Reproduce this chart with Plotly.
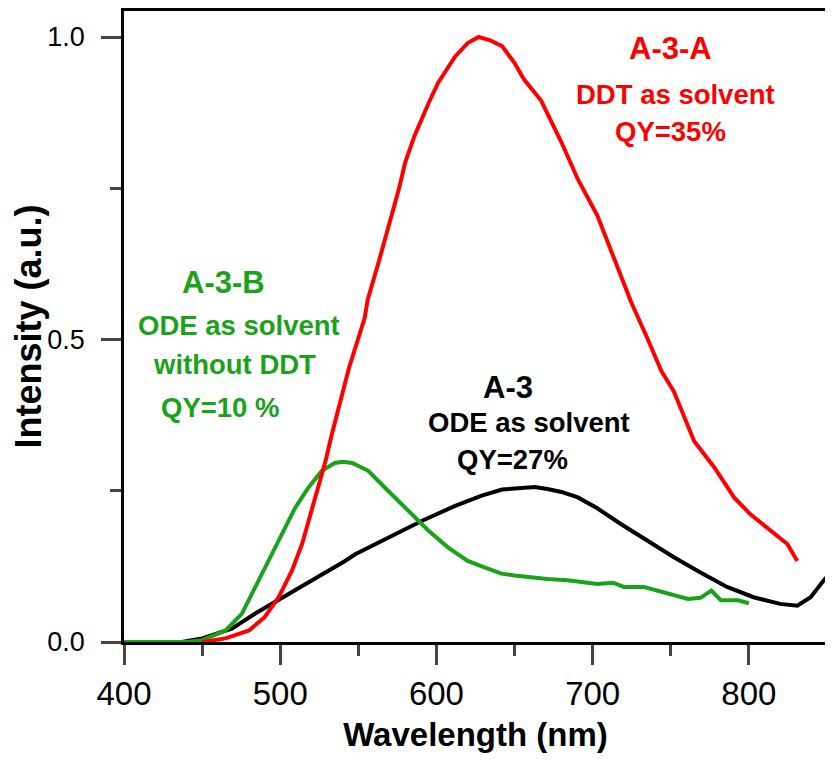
import plotly.graph_objects as go

# A-3-A, DDT as solvent (red)
wl_a3a = [450, 465, 480, 490, 499, 507.5, 514, 522, 529, 533, 544, 554, 556, 563, 569, 576,
          580, 586, 595, 601, 612, 620, 627, 634, 642, 650, 656, 667, 680, 690.5, 703, 714,
          724.6, 735, 744, 752, 756.5, 765, 778, 790.5, 801, 814, 824.6, 831]
int_a3a = [0.0, 0.006, 0.019, 0.041, 0.074, 0.118, 0.162, 0.233, 0.299, 0.343, 0.453, 0.535,
           0.566, 0.628, 0.683, 0.749, 0.793, 0.837, 0.891, 0.924, 0.968, 0.99, 1.0, 0.995,
           0.985, 0.957, 0.930, 0.895, 0.826, 0.765, 0.705, 0.634, 0.562, 0.502, 0.448, 0.414,
           0.387, 0.332, 0.288, 0.239, 0.211, 0.184, 0.162, 0.134]

# A-3-B, ODE without DDT (green)
wl_a3b = [400, 440, 450, 465, 475.5, 486, 494.7, 501, 509.6, 518, 526.6, 535, 540, 546, 556.4,
          569, 582, 595, 607.5, 620, 629, 641.6, 650, 671, 684, 703, 713, 720, 733, 740, 748,
          761, 769, 776, 782, 793, 800]
int_a3b = [0.0, 0.0, 0.003, 0.019, 0.047, 0.102, 0.145, 0.178, 0.222, 0.255, 0.283, 0.296,
           0.298, 0.296, 0.283, 0.250, 0.217, 0.184, 0.156, 0.134, 0.125, 0.113, 0.110, 0.104,
           0.102, 0.096, 0.098, 0.091, 0.091, 0.086, 0.080, 0.071, 0.073, 0.085, 0.069, 0.069,
           0.064]

# A-3, ODE as solvent (black)
wl_a3 = [400, 437, 450, 469, 484, 500, 522, 541.5, 548, 569, 590.5, 612, 629, 642, 652, 663,
         671, 680, 690.5, 703, 718, 735, 752, 769, 786, 803, 812, 820, 831, 839.5, 848, 850]
int_a3 = [0.0, 0.0, 0.006, 0.022, 0.047, 0.071, 0.104, 0.134, 0.145, 0.173, 0.200, 0.225,
          0.242, 0.252, 0.254, 0.256, 0.253, 0.248, 0.239, 0.221, 0.195, 0.167, 0.140, 0.115,
          0.091, 0.074, 0.068, 0.063, 0.060, 0.074, 0.102, 0.108]

RED = "#ff0000"
GREEN = "#1aa31a"
FONT = "Liberation Sans, Arial, sans-serif"

fig = go.Figure()
fig.add_trace(go.Scatter(x=wl_a3, y=int_a3, mode="lines", line=dict(color="black", width=4)))
fig.add_trace(go.Scatter(x=wl_a3b, y=int_a3b, mode="lines", line=dict(color=GREEN, width=4)))
fig.add_trace(go.Scatter(x=wl_a3a, y=int_a3a, mode="lines", line=dict(color=RED, width=4)))

labels = [
    ("<b>A-3-A</b>", 749.5, 0.981, 31, RED),
    ("<b>DDT as solvent</b>", 752.7, 0.905, 27.5, RED),
    ("<b>QY=35%</b>", 750.1, 0.844, 27.5, RED),
    ("<b>A-3-B</b>", 463.9, 0.594, 31, GREEN),
    ("<b>ODE as solvent</b>", 473.9, 0.523, 27.5, GREEN),
    ("<b>without DDT</b>", 470.8, 0.459, 27.5, GREEN),
    ("<b>QY=10 %</b>", 461.5, 0.388, 27.5, GREEN),
    ("<b>A-3</b>", 645.9, 0.421, 31, "black"),
    ("<b>ODE as solvent</b>", 659.1, 0.363, 27.5, "black"),
    ("<b>QY=27%</b>", 649.0, 0.302, 27.5, "black"),
]
for text, x, y, size, color in labels:
    fig.add_annotation(x=x, y=y, text=text, showarrow=False,
                       font=dict(family=FONT, size=size, color=color))

fig.update_xaxes(
    range=[400, 850], dtick=100, ticks="outside", ticklen=20, tickwidth=2.5,
    minor=dict(dtick=50, ticks="outside", ticklen=11, tickwidth=2.5),
    showline=True, linewidth=2.5, linecolor="black", mirror=True, showgrid=False,
    zeroline=False, ticklabelstandoff=1,
    tickfont=dict(family=FONT, size=33, color="black"),
    title=dict(text="<b>Wavelength (nm)</b>", standoff=12,
               font=dict(family=FONT, size=33, color="black")),
)
fig.update_yaxes(
    range=[0, 1.043], tickvals=[0, 0.5, 1.0], tickformat=".1f", ticks="outside",
    ticklen=20, tickwidth=2.5,
    minor=dict(dtick=0.25, ticks="outside", ticklen=11, tickwidth=2.5),
    showline=True, linewidth=2.5, linecolor="black", mirror=True, showgrid=False,
    zeroline=False, ticklabelstandoff=11,
    tickfont=dict(family=FONT, size=27, color="black"),
    title=dict(text="<b>Intensity (a.u.)</b>", standoff=14,
               font=dict(family=FONT, size=36, color="black")),
)
# page body adds an 8 px offset, so the figure is a bit smaller than the window
fig.update_layout(
    width=825, height=757, margin=dict(l=114, r=6, t=0, b=123),
    plot_bgcolor="white", paper_bgcolor="white", showlegend=False,
)
fig.write_html("out.html")
